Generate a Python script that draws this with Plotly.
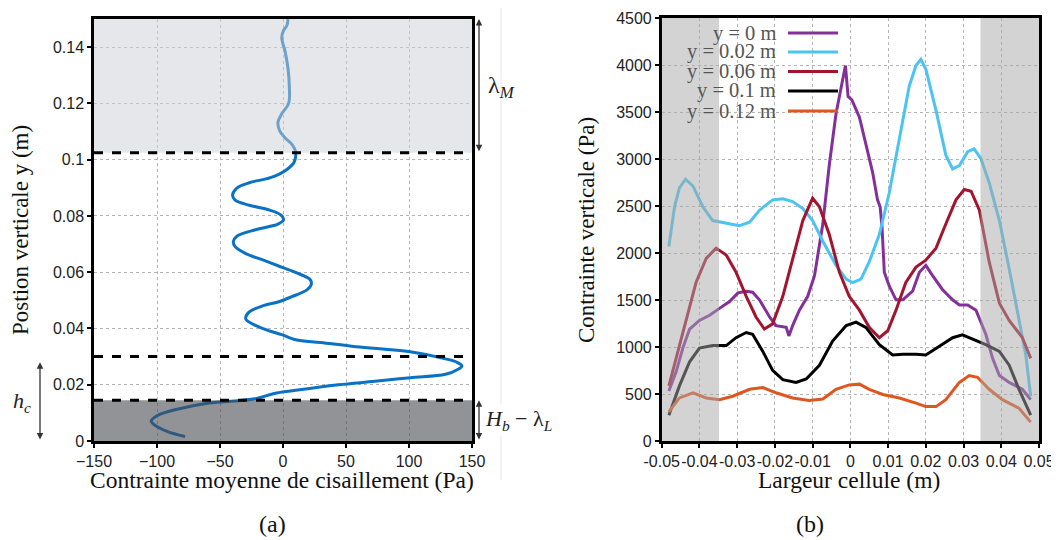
import plotly.graph_objects as go

# ---------------- Data: panel (a) ----------------
shear_pa = [-77.7, -92, -103, -104.6, -100, -83, -61, -41, -21, -7, 10, 44, 73, 101, 129, 139, 142, 138,
            129, 101, 58, 30, 10, -1, -10, -21, -29.5, -27, -15, -4, 7, 19, 22.4, 21.5, 10, -4, -15, -29.5,
            -38, -39.4, -36.6, -21, -4, 0.3, -1, -10, -26.7, -38, -40, -36.6, -26.7, -10, 1.7, 8.8, 10,
            7.4, 1.7, -2.6, -4, -1, 4.5, 5, 4, 1.7, -1, 0.3, 3, 4]
height_m = [0.0016, 0.0034, 0.0061, 0.0071, 0.009, 0.0114, 0.0133, 0.0141, 0.0151, 0.0169, 0.018, 0.020,
            0.0212, 0.0225, 0.0237, 0.0255, 0.0267, 0.028, 0.0292, 0.0317, 0.0335, 0.035, 0.036, 0.0378,
            0.039, 0.0409, 0.0433, 0.0458, 0.0482, 0.0494, 0.0513, 0.0537, 0.0556, 0.0574, 0.0599, 0.0623,
            0.0642, 0.0666, 0.0691, 0.0709, 0.0728, 0.0752, 0.0771, 0.0785, 0.0801, 0.082, 0.0838, 0.0856,
            0.0875, 0.0899, 0.0918, 0.0936, 0.0961, 0.0991, 0.1028, 0.1053, 0.1077, 0.1102, 0.1133, 0.1163,
            0.1200, 0.1261, 0.1323, 0.1384, 0.1433, 0.1458, 0.1476, 0.150]
zone_levels = [0.0145, 0.030, 0.1025]          # dashed boundaries
low_zone = [0.0, 0.0145]                         # H_b - lambda_L
top_zone = [0.1025, 0.15]                        # lambda_M
hc_zone = [0.0, 0.028]
xticks_a = [-150, -100, -50, 0, 50, 100, 150]
yticks_a = [0, 0.02, 0.04, 0.06, 0.08, 0.1, 0.12, 0.14]
ytick_labels_a = ["0", "0.02", "0.04", "0.06", "0.08", "0.1", "0.12", "0.14"]

# ---------------- Data: panel (b) ----------------
x_y0 = [-0.0481, -0.0462, -0.0444, -0.0426, -0.040, -0.0373, -0.0347, -0.032, -0.0298, -0.0276, -0.0259,
        -0.0241, -0.0214, -0.0197, -0.017, -0.0163, -0.0153, -0.0135, -0.0113, -0.0095, -0.0073, -0.0056,
        -0.0038, -0.002, -0.0013, -0.0006, 0.0004, 0.0024, 0.0041, 0.0059, 0.0072, 0.0079, 0.0084, 0.009,
        0.0103, 0.0121, 0.0139, 0.0165, 0.0183, 0.020, 0.0218, 0.0244, 0.0271, 0.0289, 0.0311, 0.0333,
        0.0359, 0.0377, 0.0395, 0.0421, 0.0456, 0.0478]
s_y0 = [531, 733, 989, 1191, 1283, 1337, 1411, 1484, 1576, 1594, 1583, 1502, 1319, 1227, 1209, 1118, 1227,
        1392, 1539, 1759, 2308, 2931, 3481, 3848, 3994, 3664, 3628, 3445, 3151, 2858, 2565, 2492, 2272,
        1795, 1649, 1502, 1502, 1594, 1795, 1869, 1759, 1612, 1502, 1447, 1447, 1392, 1136, 879, 696, 623,
        550, 440]

x_y002 = [-0.0481, -0.0466, -0.0453, -0.0437, -0.0417, -0.0391, -0.0365, -0.0329, -0.0294, -0.0267, -0.0241,
          -0.0206, -0.0179, -0.0153, -0.0126, -0.010, -0.0073, -0.0038, -0.0011, 0.0006, 0.0028, 0.005,
          0.0077, 0.0103, 0.013, 0.0156, 0.0174, 0.0187, 0.020, 0.0227, 0.0253, 0.0271, 0.0289, 0.0311,
          0.0328, 0.0346, 0.0368, 0.0395, 0.0421, 0.0447, 0.0465, 0.0478]
s_y002 = [2070, 2492, 2693, 2785, 2712, 2492, 2345, 2316, 2290, 2327, 2455, 2565, 2576, 2547, 2473, 2345,
          2125, 1869, 1722, 1686, 1722, 1905, 2199, 2638, 3225, 3774, 3994, 4060, 3957, 3518, 3041, 2895,
          2931, 3078, 3107, 3005, 2748, 2345, 1832, 1283, 916, 476]

x_y006 = [-0.0481, -0.0462, -0.0435, -0.0409, -0.0382, -0.0356, -0.0329, -0.0303, -0.0276, -0.025, -0.0228,
          -0.0206, -0.0179, -0.0153, -0.0126, -0.010, -0.0082, -0.0056, -0.0029, -0.0003, 0.0024, 0.005,
          0.0077, 0.0099, 0.0121, 0.0147, 0.0174, 0.020, 0.0227, 0.0253, 0.028, 0.0302, 0.032, 0.0342,
          0.0368, 0.0395, 0.0421, 0.0456, 0.0478]
s_y006 = [586, 879, 1283, 1686, 1942, 2052, 1979, 1795, 1539, 1319, 1191, 1246, 1539, 1942, 2345, 2583, 2492,
          2199, 1795, 1539, 1392, 1209, 1099, 1173, 1392, 1686, 1850, 1924, 2052, 2308, 2565, 2675, 2657,
          2455, 1905, 1466, 1283, 1099, 879]

x_y01 = [-0.0481, -0.0453, -0.0426, -0.040, -0.0365, -0.0329, -0.0303, -0.0276, -0.0259, -0.0232, -0.0206,
         -0.0179, -0.0144, -0.0117, -0.0082, -0.0047, -0.0011, 0.0015, 0.0041, 0.0077, 0.0112, 0.0139,
         0.0174, 0.020, 0.0236, 0.0271, 0.0297, 0.0324, 0.0359, 0.0395, 0.0421, 0.0447, 0.0478]
s_y01 = [275, 586, 843, 989, 1015, 1015, 1099, 1154, 1136, 953, 751, 652, 623, 660, 806, 1063, 1228, 1264,
         1209, 1026, 916, 923, 923, 916, 1008, 1099, 1129, 1081, 1026, 953, 806, 550, 275]

x_y012 = [-0.0481, -0.0453, -0.0417, -0.0382, -0.0347, -0.0312, -0.0267, -0.0232, -0.0197, -0.0153, -0.0109,
          -0.0073, -0.0038, -0.0003, 0.0024, 0.005, 0.0086, 0.013, 0.0174, 0.020, 0.0227, 0.0253, 0.0289,
          0.0315, 0.0337, 0.0368, 0.0403, 0.0447, 0.0478]
s_y012 = [311, 458, 513, 458, 440, 476, 550, 568, 513, 458, 432, 447, 550, 597, 605, 550, 495, 458, 403, 366,
          366, 440, 623, 696, 678, 550, 440, 348, 201]

series_b = [
    ("y = 0 m", x_y0, s_y0, "#83309a"),
    ("y = 0.02 m", x_y002, s_y002, "#4cc3f0"),
    ("y = 0.06 m", x_y006, s_y006, "#a3152f"),
    ("y = 0.1 m", x_y01, s_y01, "#000000"),
    ("y = 0.12 m", x_y012, s_y012, "#e0561f"),
]
wall_zones = [(-0.05, -0.0348), (0.0345, 0.05)]
xticks_b = [-0.05, -0.04, -0.03, -0.02, -0.01, 0, 0.01, 0.02, 0.03, 0.04, 0.05]
xtick_labels_b = ["-0.05", "-0.04", "-0.03", "-0.02", "-0.01", "0", "0.01", "0.02", "0.03", "0.04", "0.05"]
yticks_b = [0, 500, 1000, 1500, 2000, 2500, 3000, 3500, 4000, 4500]

# ---------------- Figure ----------------
# The page body has an 8px margin, so the figure is offset by 8px in the screenshot.
OFF = 8
W, H = 1050, 531
def px(v):
    return (v - OFF) / W
def py(v):
    return 1 - (v - OFF) / H

SERIF = "Liberation Serif"
SANS = "Liberation Sans"

fig = go.Figure()
fig.add_trace(go.Scatter(x=shear_pa, y=height_m, mode="lines", line=dict(color="#0a72c4", width=3),
                         xaxis="x", yaxis="y", showlegend=False, line_shape="spline"))
for name, xs, ys, col in series_b:
    fig.add_trace(go.Scatter(x=xs, y=ys, mode="lines", line=dict(color=col, width=3),
                             xaxis="x2", yaxis="y2", showlegend=False, name=name))

axis_common = dict(showline=True, mirror=True, linecolor="black", linewidth=2.5, automargin=False,
                   ticks="outside", ticklen=4, tickwidth=2, tickcolor="black", tickangle=0,
                   showgrid=True, gridcolor="#b5b5b5", griddash="dot", gridwidth=1,
                   zeroline=False, tickfont=dict(family=SANS, size=16, color="#222"))

fig.update_layout(
    template="none",
    width=W, height=H, margin=dict(l=0, r=0, t=0, b=0, pad=0),
    paper_bgcolor="white", plot_bgcolor="white", showlegend=False,
    xaxis=dict(domain=[px(94), px(472)], range=[-150, 150], tickvals=xticks_a, anchor="y", **axis_common),
    yaxis=dict(domain=[py(441), py(19)], range=[0, 0.15], tickvals=yticks_a, ticktext=ytick_labels_a,
               anchor="x", **axis_common),
    xaxis2=dict(domain=[px(661.7), px(1039)], range=[-0.05, 0.05], tickvals=xticks_b,
                ticktext=xtick_labels_b, anchor="y2", **axis_common),
    yaxis2=dict(domain=[py(441), py(18)], range=[0, 4500], tickvals=yticks_b, anchor="x2", **axis_common),
)

shapes = []
# panel (a) zones (semi-transparent, above line)
shapes.append(dict(type="rect", xref="x domain", yref="y", x0=0, x1=1, y0=top_zone[0], y1=top_zone[1],
                   fillcolor="rgba(205,208,214,0.5)", line_width=0, layer="above"))
shapes.append(dict(type="rect", xref="x domain", yref="y", x0=0, x1=1, y0=low_zone[0], y1=low_zone[1],
                   fillcolor="rgba(72,75,80,0.6)", line_width=0, layer="above"))
for lv in zone_levels:
    shapes.append(dict(type="line", xref="x domain", yref="y", x0=0, x1=1, y0=lv, y1=lv,
                       line=dict(color="black", width=3, dash="dash"), layer="above"))
# panel (b) wall zones
for a, b in wall_zones:
    shapes.append(dict(type="rect", xref="x2", yref="y2 domain", x0=a, x1=b, y0=0, y1=1,
                       fillcolor="rgba(168,168,168,0.5)", line_width=0, layer="above"))
# faint separator
shapes.append(dict(type="line", xref="paper", yref="paper", x0=px(501), x1=px(501), y0=py(8), y1=py(480),
                   line=dict(color="#e6e6e6", width=1), layer="below"))
# legend line samples
leg_rows = [33, 52, 71.5, 91, 111]
for (name, xs, ys, col), r in zip(series_b, leg_rows):
    shapes.append(dict(type="line", xref="paper", yref="paper", x0=px(788), x1=px(838), y0=py(r), y1=py(r),
                       line=dict(color=col, width=3)))
fig.update_layout(shapes=shapes)

ann = []
def arrow(xpix, y0, y1, yref):
    ann.append(dict(xref="paper", yref=yref, x=px(xpix), y=y1, axref="pixel", ayref=yref, ax=0, ay=y0,
                    showarrow=True, arrowhead=2, arrowside="end+start", arrowsize=1, arrowwidth=1.3,
                    arrowcolor="#333", text=""))
arrow(479, top_zone[0], top_zone[1], "y")
arrow(479, low_zone[0], low_zone[1], "y")
arrow(40, hc_zone[0], hc_zone[1], "y")

def label(x, y, text, size, color="#111", angle=0, xanchor="center", bg=None):
    d = dict(xref="paper", yref="paper", x=px(x), y=py(y), text=text, showarrow=False, textangle=angle,
             xanchor=xanchor, yanchor="middle", font=dict(family=SERIF, size=size, color=color))
    if bg:
        d["bgcolor"] = bg
    ann.append(d)

label(501, 87, "λ<sub><i>M</i></sub>", 24, "#222")
label(518, 420, "<i>H</i><sub><i>b</i></sub> − λ<sub><i>L</i></sub>", 22, "#222", bg="white")
label(22, 402, "<i>h</i><sub><i>c</i></sub>", 22, "#222")
# axis titles
label(21, 230, "Postion verticale y (m)", 23, angle=-90)
label(282, 480, "Contrainte moyenne de cisaillement (Pa)", 23.5)
label(587, 230, "Contrainte verticale (Pa)", 23, angle=-90)
label(849, 480, "Largeur cellule (m)", 23.5)
label(272, 524, "(a)", 24)
label(810, 524, "(b)", 24)
# legend labels
for (name, xs, ys, col), r in zip(series_b, leg_rows):
    label(778, r, name, 20.5, "#555", xanchor="right")
fig.update_layout(annotations=ann)

fig.write_html("out.html")
